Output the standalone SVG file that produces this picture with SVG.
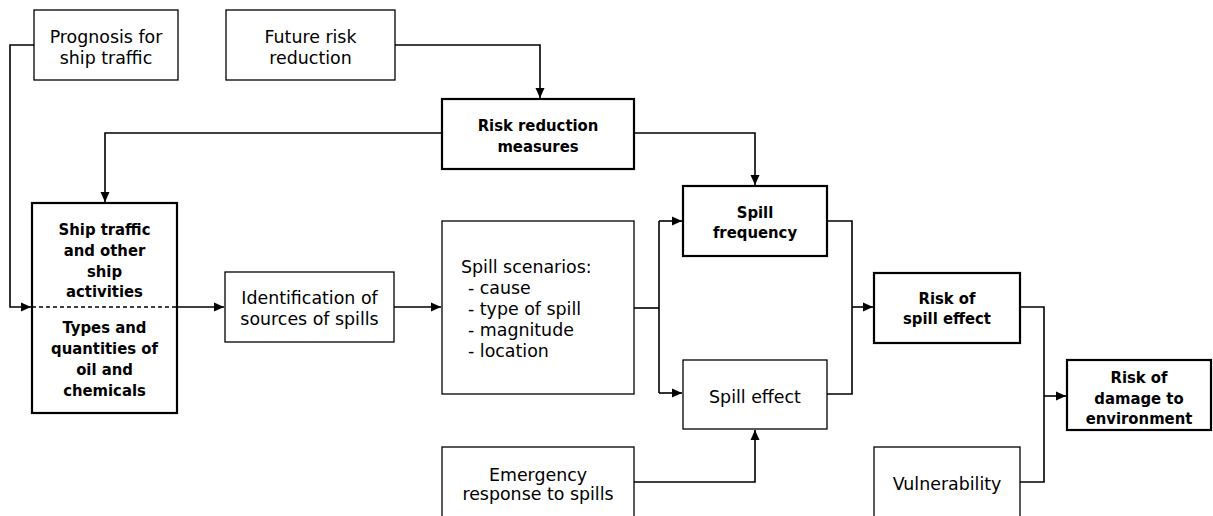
<svg xmlns="http://www.w3.org/2000/svg" width="1213" height="516" viewBox="0 0 1213 516">
<style>
.box{fill:#fff;stroke:#000;stroke-width:1.3}
.bold{fill:#fff;stroke:#000;stroke-width:2.2}
text{font-family:"DejaVu Sans","Verdana",sans-serif;font-size:17.4px;fill:#000}
.c{text-anchor:middle}
.b{font-family:"DejaVu Sans Condensed","DejaVu Sans",sans-serif;font-weight:bold;font-size:16.5px}
.con{fill:none;stroke:#000;stroke-width:1.6}
</style>
<defs>
<marker id="arr" markerUnits="userSpaceOnUse" markerWidth="10" markerHeight="10" viewBox="0 0 10 10" refX="10" refY="5" orient="auto">
<path d="M0,0.5 L10,5 L0,9.5 Z" fill="#000"/>
</marker>
</defs>
<rect width="1213" height="516" fill="#fff"/>
<g id="connectors">
<path class="con" d="M34,45 H10 V307 H31" marker-end="url(#arr)"/>
<path class="con" d="M395,45 H540 V98" marker-end="url(#arr)"/>
<path class="con" d="M442,133 H105 V202" marker-end="url(#arr)"/>
<path class="con" d="M634,133 H755 V185" marker-end="url(#arr)"/>
<path class="con" d="M177,307 H224" marker-end="url(#arr)"/>
<path class="con" d="M394,307 H441" marker-end="url(#arr)"/>
<path class="con" d="M634,308 H659"/>
<path class="con" d="M659,221 V393"/>
<path class="con" d="M659,221 H682" marker-end="url(#arr)"/>
<path class="con" d="M659,393 H682" marker-end="url(#arr)"/>
<path class="con" d="M634,482 H755 V430" marker-end="url(#arr)"/>
<path class="con" d="M827,221 H852 V394 H827"/>
<path class="con" d="M852,307 H873" marker-end="url(#arr)"/>
<path class="con" d="M1020,307 H1044 V482 H1020"/>
<path class="con" d="M1044,396 H1066" marker-end="url(#arr)"/>
</g>
<g id="prognosis">
<rect class="box" x="34" y="10" width="144" height="70"/>
<text class="c" x="106" y="42.5">Prognosis for</text>
<text class="c" x="106" y="63.5">ship traffic</text>
</g>
<g id="future-risk">
<rect class="box" x="226" y="10" width="169" height="70"/>
<text class="c" x="310.5" y="42.5">Future risk</text>
<text class="c" x="310.5" y="63.5">reduction</text>
</g>
<g id="risk-reduction">
<rect class="bold" x="442" y="99" width="192" height="70"/>
<text class="c b" x="538" y="131">Risk reduction</text>
<text class="c b" x="538" y="152">measures</text>
</g>
<g id="ship-traffic">
<rect class="bold" x="32" y="203" width="145" height="210"/>
<line x1="32" y1="307" x2="177" y2="307" stroke="#000" stroke-width="1.6" stroke-dasharray="4,3"/>
<text class="c b" x="104.5" y="235">Ship traffic</text>
<text class="c b" x="104.5" y="256">and other</text>
<text class="c b" x="104.5" y="277">ship</text>
<text class="c b" x="104.5" y="297">activities</text>
<text class="c b" x="104.5" y="333">Types and</text>
<text class="c b" x="104.5" y="354">quantities of</text>
<text class="c b" x="104.5" y="375">oil and</text>
<text class="c b" x="104.5" y="396">chemicals</text>
</g>
<g id="identification">
<rect class="box" x="225" y="272" width="169" height="70"/>
<text class="c" x="309.5" y="303.5">Identification of</text>
<text class="c" x="309.5" y="324.5">sources of spills</text>
</g>
<g id="spill-scenarios">
<rect class="box" x="442" y="221" width="192" height="173"/>
<text x="461" y="273">Spill scenarios:</text>
<text x="468" y="294">- cause</text>
<text x="468" y="315">- type of spill</text>
<text x="468" y="336">- magnitude</text>
<text x="468" y="357">- location</text>
</g>
<g id="spill-frequency">
<rect class="bold" x="683" y="186" width="144" height="70"/>
<text class="c b" x="755" y="218">Spill</text>
<text class="c b" x="755" y="238">frequency</text>
</g>
<g id="spill-effect">
<rect class="box" x="683" y="360" width="144" height="69"/>
<text class="c" x="755" y="402.5">Spill effect</text>
</g>
<g id="emergency">
<rect class="box" x="442" y="447" width="192" height="75"/>
<text class="c" x="538" y="480.5">Emergency</text>
<text class="c" x="538" y="499.5">response to spills</text>
</g>
<g id="risk-spill-effect">
<rect class="bold" x="874" y="273" width="146" height="70"/>
<text class="c b" x="947" y="304">Risk of</text>
<text class="c b" x="947" y="324">spill effect</text>
</g>
<g id="vulnerability">
<rect class="box" x="874" y="447" width="146" height="75"/>
<text class="c" x="947" y="489.5">Vulnerability</text>
</g>
<g id="risk-damage">
<rect class="bold" x="1067" y="360" width="144" height="70"/>
<text class="c b" x="1139" y="383">Risk of</text>
<text class="c b" x="1139" y="404">damage to</text>
<text class="c b" x="1139" y="424">environment</text>
</g>
</svg>
